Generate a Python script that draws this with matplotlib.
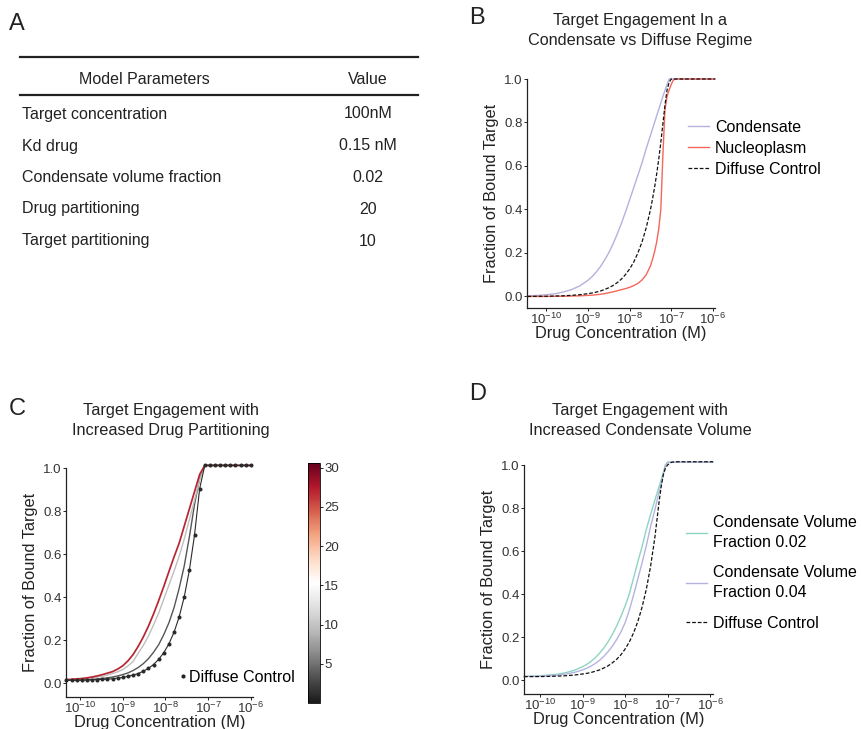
import numpy as np
import matplotlib
matplotlib.use("Agg")
import matplotlib.pyplot as plt
from matplotlib.lines import Line2D
from matplotlib import colors, cm
from matplotlib.ticker import LogLocator, NullFormatter

plt.rcParams['font.family'] = ['Liberation Sans', 'DejaVu Sans']
plt.rcParams['mathtext.fontset'] = 'custom'
plt.rcParams['mathtext.rm'] = 'Liberation Sans'
plt.rcParams['mathtext.it'] = 'Liberation Sans:italic'

W, H = 861, 729

# ---- A: parameter table
param_names = ["Target concentration", "Kd drug", "Condensate volume fraction",
               "Drug partitioning", "Target partitioning"]
param_values = ["100nM", "0.15 nM", "0.02", "20", "10"]

# ---- B: condensate vs diffuse (x = log10 of drug conc in M)
b_exp = [-10.45, -10.2, -10.0, -9.8, -9.6, -9.4, -9.2, -9.0, -8.9, -8.8, -8.7, -8.6, -8.5,
         -8.4, -8.3, -8.2, -8.1, -8.0, -7.9, -7.8, -7.7, -7.6, -7.5, -7.45, -7.4, -7.35,
         -7.3, -7.25, -7.2, -7.15, -7.1, -7.05, -7.0, -6.95, -6.9, -6.8, -6.5, -6.0, -5.95]
b_condensate = [0.003, 0.005, 0.008, 0.012, 0.020, 0.031, 0.048, 0.074, 0.091, 0.112, 0.137,
                0.167, 0.20, 0.24, 0.285, 0.334, 0.387, 0.443, 0.50, 0.557, 0.615, 0.68, 0.74,
                0.77, 0.80, 0.83, 0.86, 0.89, 0.92, 0.948, 0.975, 1.0, 1.0, 1.0, 1.0, 1.0, 1.0,
                1.0, 1.0]
b_nucleoplasm = [0.0, 0.0, 0.0, 0.001, 0.001, 0.002, 0.003, 0.005, 0.006, 0.008, 0.010, 0.013,
                 0.017, 0.021, 0.026, 0.031, 0.036, 0.042, 0.05, 0.06, 0.076, 0.10, 0.14, 0.17,
                 0.205, 0.25, 0.31, 0.40, 0.65, 0.86, 0.92, 0.95, 0.975, 0.995, 1.0, 1.0, 1.0,
                 1.0, 1.0]
b_diffuse = [0.0, 0.001, 0.001, 0.002, 0.003, 0.005, 0.008, 0.013, 0.016, 0.02, 0.025, 0.032,
             0.04, 0.05, 0.063, 0.079, 0.1, 0.126, 0.158, 0.2, 0.251, 0.316, 0.398, 0.447, 0.501,
             0.562, 0.631, 0.708, 0.794, 0.88, 0.95, 0.985, 1.0, 1.0, 1.0, 1.0, 1.0, 1.0, 1.0]

# ---- C: increased drug partitioning (all series share one grid)
c_exp = [-10.32, -10.2, -10.08, -9.96, -9.84, -9.72, -9.6, -9.48, -9.36, -9.24, -9.12,
         -9.0, -8.88, -8.76, -8.64, -8.52, -8.4, -8.28, -8.16, -8.04, -7.92, -7.8, -7.68,
         -7.56, -7.44, -7.32, -7.2, -7.08, -6.96, -6.84, -6.72, -6.6, -6.48, -6.36, -6.24,
         -6.12, -6.0]
c_partition = [3.5, 9.5, 27]
c_curves = [
    [0.013, 0.013, 0.014, 0.015, 0.016, 0.017, 0.019, 0.021, 0.024, 0.028, 0.033, 0.039, 0.047,
     0.058, 0.072, 0.09, 0.113, 0.143, 0.178, 0.225, 0.28, 0.35, 0.44, 0.545, 0.68, 0.83, 0.95,
     1.012, 1.012, 1.012, 1.012, 1.012, 1.012, 1.012, 1.012, 1.012, 1.012],
    [0.015, 0.016, 0.017, 0.018, 0.020, 0.023, 0.027, 0.031, 0.037, 0.044, 0.052, 0.063, 0.079,
     0.10, 0.138, 0.175, 0.218, 0.27, 0.325, 0.39, 0.455, 0.52, 0.59, 0.67, 0.76, 0.85, 0.945,
     1.012, 1.012, 1.012, 1.012, 1.012, 1.012, 1.012, 1.012, 1.012, 1.012],
    [0.016, 0.017, 0.019, 0.021, 0.024, 0.028, 0.033, 0.039, 0.046, 0.053, 0.065, 0.08, 0.103,
     0.132, 0.17, 0.214, 0.264, 0.321, 0.383, 0.449, 0.518, 0.586, 0.65, 0.73, 0.81, 0.89, 0.97,
     1.012, 1.012, 1.012, 1.012, 1.012, 1.012, 1.012, 1.012, 1.012, 1.012],
]
c_diffuse = [0.013, 0.013, 0.013, 0.014, 0.014, 0.015, 0.016, 0.017, 0.018, 0.020, 0.023,
             0.026, 0.031, 0.037, 0.044, 0.055, 0.068, 0.086, 0.110, 0.141, 0.182, 0.236, 0.307,
             0.401, 0.525, 0.688, 0.903, 1.012, 1.012, 1.012, 1.012, 1.012, 1.012, 1.012, 1.012,
             1.012, 1.012]

# ---- D: increased condensate volume
d_exp = [-10.38, -10.2, -10.0, -9.8, -9.6, -9.4, -9.2, -9.0, -8.9, -8.8, -8.7, -8.6, -8.5,
         -8.4, -8.3, -8.2, -8.1, -8.0, -7.9, -7.8, -7.7, -7.6, -7.5, -7.4, -7.3, -7.2, -7.15,
         -7.1, -7.05, -7.0, -6.95, -6.9, -6.8, -6.5, -6.0, -5.93]
d_vol002 = [0.017, 0.018, 0.020, 0.023, 0.027, 0.034, 0.045, 0.062, 0.073, 0.087, 0.104, 0.125,
            0.149, 0.178, 0.212, 0.251, 0.295, 0.344, 0.40, 0.475, 0.55, 0.62, 0.70, 0.77, 0.835,
            0.90, 0.93, 0.965, 1.0, 1.013, 1.013, 1.013, 1.013, 1.013, 1.013, 1.013]
d_vol004 = [0.016, 0.017, 0.018, 0.020, 0.023, 0.028, 0.035, 0.047, 0.055, 0.065, 0.077, 0.092,
            0.110, 0.132, 0.157, 0.188, 0.223, 0.266, 0.325, 0.395, 0.47, 0.545, 0.625, 0.713,
            0.79, 0.875, 0.91, 0.955, 0.998, 1.013, 1.013, 1.013, 1.013, 1.013, 1.013, 1.013]
d_diffuse = [0.016, 0.016, 0.016, 0.017, 0.018, 0.020, 0.023, 0.028, 0.031, 0.035, 0.041, 0.047,
             0.056, 0.066, 0.080, 0.096, 0.117, 0.144, 0.177, 0.219, 0.272, 0.339, 0.422, 0.528,
             0.661, 0.828, 0.90, 0.955, 0.985, 1.0, 1.008, 1.013, 1.015, 1.015, 1.015, 1.015]

decades = [-10, -9, -8, -7, -6]
yticks = [0.0, 0.2, 0.4, 0.6, 0.8, 1.0]
ink = '#222222'


def rect(l, t, r, b):
    return [l / W, 1 - b / H, (r - l) / W, (b - t) / H]


def fx(x):
    return x / W


def fy(y):
    return 1 - y / H


def style(ax, xlo, xhi, ylo):
    ax.set_xscale('log')
    ax.set_xlim(10 ** xlo, 10 ** xhi)
    ax.set_ylim(ylo, 1.0)
    for s in ['top', 'right']:
        ax.spines[s].set_visible(False)
    for s in ['left', 'bottom']:
        ax.spines[s].set_linewidth(0.9)
        ax.spines[s].set_color(ink)
    ax.set_xticks([10.0 ** d for d in decades])
    ax.set_xticklabels([r'$\mathregular{10^{%d}}$' % d for d in decades])
    ax.xaxis.set_minor_locator(LogLocator(base=10, subs=np.arange(2, 10)))
    ax.xaxis.set_minor_formatter(NullFormatter())
    ax.set_yticks(yticks)
    ax.set_yticklabels(['%.1f' % v for v in yticks])
    ax.tick_params(axis='both', which='major', labelsize=9.5, length=2, width=0.7,
                   colors=ink, labelcolor='#333333', pad=1)
    ax.tick_params(axis='x', which='minor', length=1.5, width=0.5, colors=ink)
    ax.set_xlabel('Drug Concentration (M)', fontsize=11.8, labelpad=-1, color=ink)
    ax.set_ylabel('Fraction of Bound Target', fontsize=11.8, labelpad=4, color=ink)


def title(x, y, lines):
    for i, t in enumerate(lines):
        fig.text(fx(x), fy(y + 20 * i), t, fontsize=11.7, ha='center', va='center', color=ink)


fig = plt.figure(figsize=(W / 100, H / 100), dpi=100)

# panel letters
for letter, x, y in [('A', 9, 24), ('B', 469, 18), ('C', 9, 409), ('D', 469, 394)]:
    fig.text(fx(x), fy(y), letter, fontsize=17, ha='left', va='center', color=ink)

# ---- A
fig.add_artist(Line2D([fx(20), fx(418)], [fy(57), fy(57)], lw=1.6, color=ink))
fig.add_artist(Line2D([fx(20), fx(418)], [fy(95), fy(95)], lw=1.6, color=ink))
fig.text(fx(144), fy(79), 'Model Parameters', fontsize=11.5, ha='center', va='center', color=ink)
fig.text(fx(368), fy(79), 'Value', fontsize=11.5, ha='center', va='center', color=ink)
row_y = [114, 146, 177, 209, 241]
for name, val, y in zip(param_names, param_values, row_y):
    fig.text(fx(22), fy(y), name, fontsize=11.5, ha='left', va='center', color=ink)
    fig.text(fx(368), fy(y), val, fontsize=11.5, ha='center', va='center', color=ink)

# ---- B
axb = fig.add_axes(rect(527, 79, 715, 308))
xb = [10.0 ** e for e in b_exp]
lb1, = axb.plot(xb, b_condensate, color='#b4b1dc', lw=1.0, clip_on=False, label='Condensate')
lb2, = axb.plot(xb, b_nucleoplasm, color='#f4665a', lw=1.0, clip_on=False, label='Nucleoplasm')
lb3, = axb.plot(xb, b_diffuse, color='#111111', lw=0.9, ls=(0, (3, 1.5)), clip_on=False,
                label='Diffuse Control')
style(axb, -10.46, -5.95, -0.053)
axb.legend(handles=[lb1, lb2, lb3], loc='upper left', bbox_to_anchor=(fx(688), fy(120)),
           bbox_transform=fig.transFigure, frameon=False, fontsize=11.5, handlelength=1.3,
           handletextpad=0.4, labelspacing=0.37, borderpad=0, borderaxespad=0)
title(640, 20, ['Target Engagement In a', 'Condensate vs Diffuse Regime'])

# ---- C
axc = fig.add_axes(rect(66, 468, 253, 697))
cmap = plt.get_cmap('RdGy_r')
norm = colors.Normalize(vmin=0, vmax=30.6)
xc = [10.0 ** e for e in c_exp]
for p, ys in zip(c_partition, c_curves):
    axc.plot(xc, ys, color=cmap(norm(p)), lw=1.25 if p > 20 else 1.0, clip_on=False)
axc.plot(xc, c_diffuse, color='#2a2a2a', lw=0.8, marker='o', ms=1.9, clip_on=False)
style(axc, -10.33, -5.95, -0.065)
hd = Line2D([], [], ls='none', marker='o', ms=2.0, color=ink)
axc.legend(handles=[hd], labels=['Diffuse Control'], loc='upper left',
           bbox_to_anchor=(fx(180), fy(670)), bbox_transform=fig.transFigure, frameon=False,
           fontsize=11.5, handlelength=0.4, handletextpad=0.15, borderpad=0, borderaxespad=0)
title(171, 410, ['Target Engagement with', 'Increased Drug Partitioning'])

cax = fig.add_axes(rect(308, 463, 320, 703))
cb = fig.colorbar(cm.ScalarMappable(norm=norm, cmap=cmap), cax=cax)
cb.set_ticks([5, 10, 15, 20, 25, 30])
cb.outline.set_linewidth(0.6)
cax.tick_params(labelsize=9.5, length=2, width=0.6, pad=1, labelcolor='#333333')

# ---- D
axd = fig.add_axes(rect(524, 465, 713, 694))
xd = [10.0 ** e for e in d_exp]
l1, = axd.plot(xd, d_vol002, color='#8dd5c3', lw=1.0, clip_on=False)
l2, = axd.plot(xd, d_vol004, color='#b7b3e0', lw=1.0, clip_on=False)
l3, = axd.plot(xd, d_diffuse, color='#111111', lw=0.9, ls=(0, (3, 1.5)), clip_on=False)
style(axd, -10.38, -5.93, -0.065)
leg = axd.legend(handles=[l1, l2, l3],
                 labels=['Condensate Volume\nFraction 0.02', 'Condensate Volume\nFraction 0.04',
                         'Diffuse Control'],
                 loc='upper left', bbox_to_anchor=(fx(686), fy(515)),
                 bbox_transform=fig.transFigure, frameon=False, fontsize=11.5, handlelength=1.3,
                 handletextpad=0.4, labelspacing=0.97, borderpad=0, borderaxespad=0)
for t in leg.get_texts():
    t.set_linespacing(1.4)
title(640, 410, ['Target Engagement with', 'Increased Condensate Volume'])

fig.savefig('out.png', dpi=100)
